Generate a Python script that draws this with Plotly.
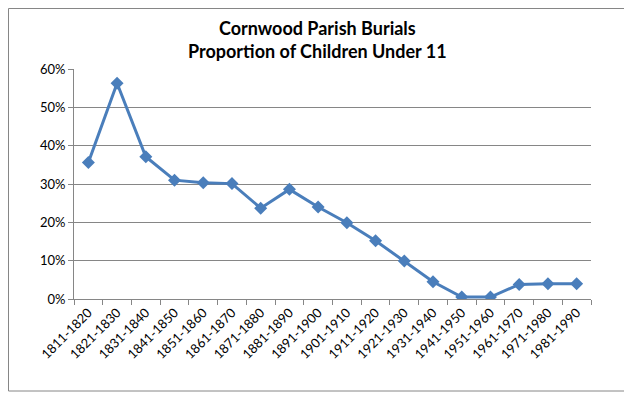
import plotly.graph_objects as go

periods = ["1811-1820", "1821-1830", "1831-1840", "1841-1850", "1851-1860",
           "1861-1870", "1871-1880", "1881-1890", "1891-1900", "1901-1910",
           "1911-1920", "1921-1930", "1931-1940", "1941-1950", "1951-1960",
           "1961-1970", "1971-1980", "1981-1990"]
proportion = [0.356, 0.563, 0.371, 0.310, 0.303, 0.301, 0.237, 0.286, 0.240,
              0.199, 0.152, 0.099, 0.045, 0.005, 0.005, 0.038, 0.040, 0.040]
y_ticks = [0, 0.1, 0.2, 0.3, 0.4, 0.5, 0.6]
y_tick_labels = ["0%", "10%", "20%", "30%", "40%", "50%", "60%"]
title_lines = ["Cornwood Parish Burials", "Proportion of Children Under 11"]

# page body has an 8px margin; size the figure to fit the 632x395 window
W, H = 624, 387
ml, mr, mt, mb = 66, 41, 61, 96
pw, ph = W - ml - mr, H - mt - mb


def py(p):
    """figure pixel row (from top) -> paper y"""
    return (H - mb - p) / ph


def px(p):
    return (p - ml) / pw


fig = go.Figure()
fig.add_trace(go.Scatter(
    x=periods, y=proportion, mode="lines+markers",
    line=dict(color="#4a7ebb", width=3),
    marker=dict(symbol="diamond", size=10, color="#4a7ebb"),
    showlegend=False,
))

font_fam = "Lato, 'Open Sans', Arial, sans-serif"

fig.update_layout(
    width=W, height=H,
    margin=dict(l=ml, r=mr, t=mt, b=mb),
    paper_bgcolor="white", plot_bgcolor="white",
    annotations=[dict(
        text="<b>" + "<br>".join(title_lines) + "</b>",
        xref="paper", yref="paper", x=px(309), y=py(31),
        xanchor="center", yanchor="middle", align="center",
        showarrow=False, font=dict(family=font_fam, size=18, color="black"),
    )],
    xaxis=dict(
        type="category", showgrid=False, showline=True, linecolor="#868686",
        linewidth=1, ticks="outside", tickson="boundaries", ticklen=5,
        tickcolor="#868686", tickangle=-45,
        tickfont=dict(family=font_fam, size=13, color="black"),
        range=[-0.5, len(periods) - 0.5],
    ),
    yaxis=dict(
        range=[0, 0.6], tickvals=y_ticks, ticktext=y_tick_labels,
        showgrid=True, gridcolor="#868686", gridwidth=1,
        showline=True, linecolor="#868686", linewidth=1,
        ticks="outside", ticklen=5, tickcolor="#868686",
        tickfont=dict(family=font_fam, size=13, color="black"),
        zeroline=False,
    ),
    shapes=[dict(
        type="rect", xref="paper", yref="paper",
        x0=px(0.5), x1=px(617), y0=py(383), y1=py(0.5),
        line=dict(color="#868686", width=1), fillcolor="rgba(0,0,0,0)",
        layer="below",
    )],
)

fig.write_html("out.html")
